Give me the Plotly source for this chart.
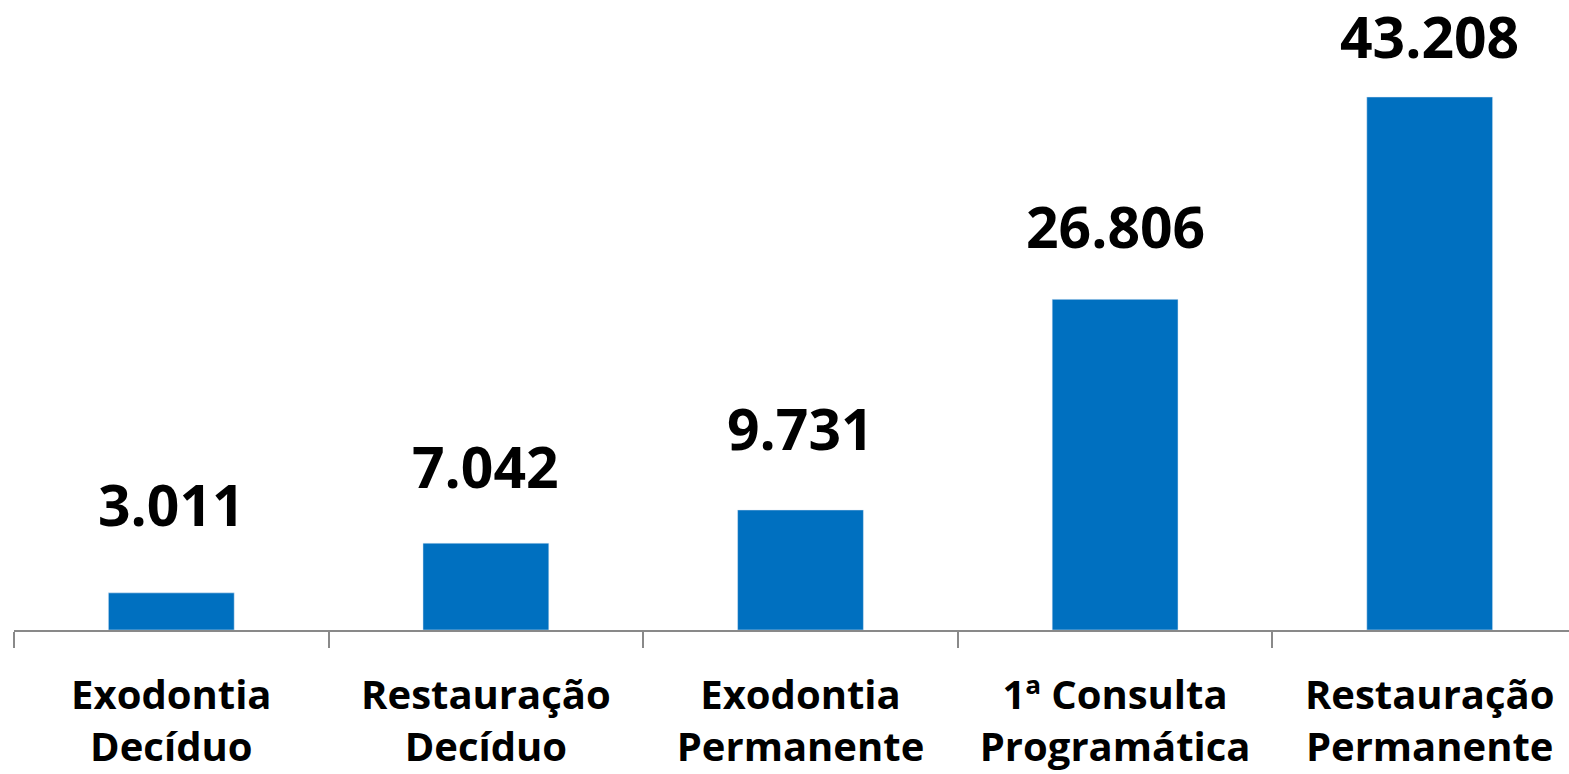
import plotly.graph_objects as go

categories = ["Exodontia<br>Decíduo", "Restauração<br>Decíduo", "Exodontia<br>Permanente",
              "1ª Consulta<br>Programática", "Restauração<br>Permanente"]
values = [3011, 7042, 9731, 26806, 43208]
label_shift = [89, 77, 82, 73, 61]

def fmt(v):
    return f"{v:,}".replace(",", ".")

fig = go.Figure(go.Bar(x=categories, y=values, marker_color="#0070C0", width=0.4))

for c, v, s in zip(categories, values, label_shift):
    fig.add_annotation(x=c, y=v, text=f"<b>{fmt(v)}</b>", showarrow=False,
                       yanchor="middle", yshift=s, borderpad=0,
                       font=dict(family="Open Sans", size=57, color="black"))

W, H = 1569, 774
top, bottom, left, right = 20, 144, 14, 0
cat_px = 314.6  # pixel width of one category in the reference (chart cropped at right)
plot_w = W - left - right
fig.update_layout(
    width=W, height=H,
    margin=dict(l=left, r=right, t=top, b=bottom, autoexpand=False),
    plot_bgcolor="white", paper_bgcolor="white",
    showlegend=False,
    xaxis=dict(tickson="boundaries", ticks="outside", ticklen=16, tickcolor="#898989",
               tickwidth=2,
               showline=True, linecolor="#898989", linewidth=2, automargin=False,
               ticklabelstandoff=29,
               range=[-0.5, -0.5 + plot_w / cat_px],
               tickfont=dict(family="Open Sans", size=40, color="black"),
               tickprefix="<b>", ticksuffix="</b>"),
    yaxis=dict(visible=False, range=[0, (H - bottom - top) / 0.012336], showgrid=False,
               automargin=False),
)
fig.write_html("out.html", config={"displayModeBar": False},
               post_script="document.body.style.margin='0';document.body.style.overflow='hidden';")
